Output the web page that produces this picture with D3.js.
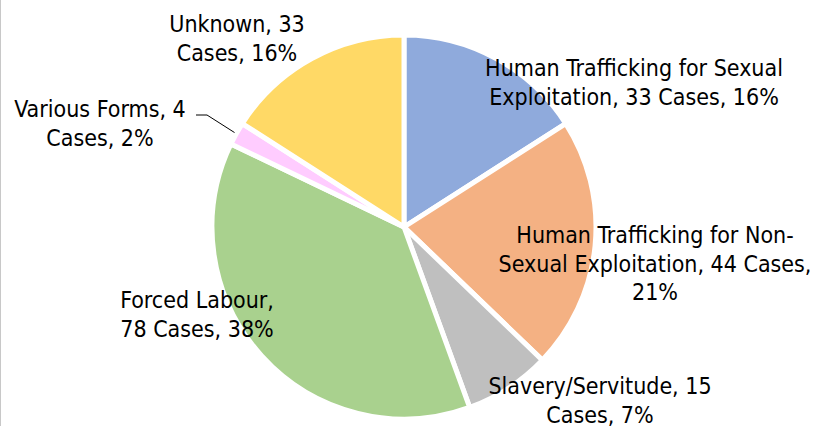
<!DOCTYPE html>
<html>
<head>
<meta charset="utf-8">
<script src="https://cdn.jsdelivr.net/npm/d3@7"></script>
<style>
  body { margin: 0; background: #fff; }
  svg { display: block; }
  text { font-family: "DejaVu Sans Condensed", "DejaVu Sans", sans-serif; font-size: 23px; fill: #000; }
</style>
</head>
<body>
<svg id="chart" width="825" height="426"></svg>
<script>
// chart data
var categories = ['Human Trafficking for Sexual Exploitation', 'Human Trafficking for Non-Sexual Exploitation',
  'Slavery/Servitude', 'Forced Labour', 'Various Forms', 'Unknown'];
var cases = [33, 44, 15, 78, 4, 33];
var percents = [16, 21, 7, 38, 2, 16];
var labelLines = [
  ['Human Trafficking for Sexual', 'Exploitation, 33 Cases, 16%'],
  ['Human Trafficking for Non-', 'Sexual Exploitation, 44 Cases,', '21%'],
  ['Slavery/Servitude, 15', 'Cases, 7%'],
  ['Forced Labour,', '78 Cases, 38%'],
  ['Various Forms, 4', 'Cases, 2%'],
  ['Unknown, 33', 'Cases, 16%']
];
var colors = ['#8faadc', '#f4b183', '#bfbfbf', '#a9d18e', '#ffccff', '#ffd966'];

// where each label block sits (center x, first baseline y)
var labelPos = [[634, 76], [655, 243], [600, 394], [197, 308], [100, 117], [237, 32]];

var width = 825, height = 426;
var cx = 404, cy = 227, radius = 192;
var lineH = 28.5;

var svg = d3.select('#chart');

svg.append('line')
  .attr('x1', 0.5).attr('x2', 0.5)
  .attr('y1', 0).attr('y2', height)
  .style('stroke', '#c8c8c8')
  .style('stroke-width', 1);

var pie = d3.pie().sort(null).value(function(d) { return d; });
var arc = d3.arc().innerRadius(0).outerRadius(radius);
var arcs = pie(cases);

var g = svg.append('g').attr('transform', 'translate(' + cx + ',' + cy + ')');

g.selectAll('path')
  .data(arcs)
  .enter()
  .append('path')
  .attr('d', arc)
  .style('fill', function(d, i) { return colors[i]; })
  .style('stroke', '#fff')
  .style('stroke-width', 5)
  .style('stroke-linejoin', 'round');

// leader line for the small slice
var small = arcs[4];
var mid = (small.startAngle + small.endAngle) / 2;
var edge = [Math.sin(mid) * (radius + 2), -Math.cos(mid) * (radius + 2)];
svg.append('polyline')
  .attr('points', [
    [196, labelPos[4][1] - 2],
    [207, labelPos[4][1] - 2],
    [cx + edge[0], cy + edge[1]]
  ].map(function(p) { return p.join(','); }).join(' '))
  .style('fill', 'none')
  .style('stroke', '#000')
  .style('stroke-width', 1);

var labels = svg.selectAll('text.lbl')
  .data(labelLines)
  .enter()
  .append('text')
  .attr('class', 'lbl')
  .attr('text-anchor', 'middle')
  .attr('x', function(d, i) { return labelPos[i][0]; })
  .attr('y', function(d, i) { return labelPos[i][1]; });

labels.selectAll('tspan')
  .data(function(d, i) { return d.map(function(t) { return {t: t, i: i}; }); })
  .enter()
  .append('tspan')
  .attr('x', function(d) { return labelPos[d.i][0]; })
  .attr('dy', function(d, j) { return j === 0 ? 0 : lineH; })
  .text(function(d) { return d.t; });
</script>
</body>
</html>
